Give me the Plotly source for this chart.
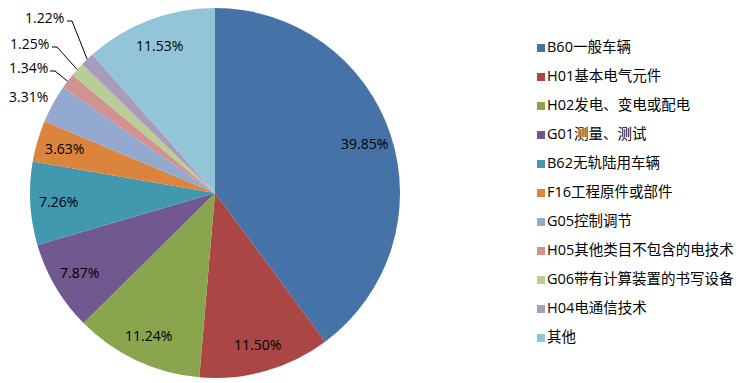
import math
import plotly.graph_objects as go

labels = ["B60一般车辆", "H01基本电气元件", "H02发电、变电或配电", "G01测量、测试",
          "B62无轨陆用车辆", "F16工程原件或部件", "G05控制调节", "H05其他类目不包含的电技术",
          "G06带有计算装置的书写设备", "H04电通信技术", "其他"]
values = [39.85, 11.50, 11.24, 7.87, 7.26, 3.63, 3.31, 1.34, 1.25, 1.22, 11.53]
colors = ["#4572A7", "#AA4643", "#89A54E", "#71588F", "#4198AF", "#DB843D",
          "#93A9CF", "#D19392", "#B9CD96", "#A99BBD", "#92C5D8"]

FONT = "Open Sans, Noto Sans CJK SC, sans-serif"
W, H = 755, 383
OFF = 8                                  # page body margin in the browser
cx, cy, r = 215 - OFF, 193 - OFF, 185    # pie centre / radius in px (from top-left)

# outside-label placement (page px): text centre, and start of leader line (None = no leader)
outside_layout = {
    6: ((28, 97), None),
    7: ((28, 67), (50, 71)),
    8: ((29, 43), (52, 47)),
    9: ((44, 17), (67, 21)),
}


def px2paper(x, y):
    return x / W, 1 - y / H


fig = go.Figure()
fig.add_trace(go.Pie(
    labels=labels, values=values, sort=False, direction="clockwise", rotation=0,
    marker=dict(colors=colors, line=dict(width=0)),
    textinfo="none", showlegend=False, hoverinfo="label+value",
    domain=dict(x=[(cx - r) / W, (cx + r) / W],
                y=[max(0.0, (H - cy - r) / H), min(1.0, (H - cy + r) / H)]),
))

total = sum(values)
cum = 0.0
annotations, shapes = [], []
for i, v in enumerate(values):
    mid = (cum + v / 2) / total * 2 * math.pi
    cum += v
    sx, sy = math.sin(mid), math.cos(mid)
    txt = f"{v / total * 100:.2f}%"
    base = dict(xref="paper", yref="paper", xanchor="center", yanchor="middle",
                text=txt, showarrow=False,
                font=dict(family=FONT, size=14, color="#000000"))
    if i in outside_layout:
        (tx, ty), lead = outside_layout[i]
        ax_, ay_ = px2paper(tx - OFF, ty - OFF)
        annotations.append(dict(base, x=ax_, y=ay_))
        if lead is not None:
            ex, ey = cx + r * sx, cy - r * sy
            lx, ly = lead[0] - OFF, lead[1] - OFF
            p0 = px2paper(lx, ly)
            p1 = px2paper(lx + 5, ly)
            p2 = px2paper(ex, ey)
            shapes.append(dict(type="path", xref="paper", yref="paper",
                               path=f"M {p0[0]},{p0[1]} L {p1[0]},{p1[1]} L {p2[0]},{p2[1]}",
                               line=dict(color="#000000", width=1)))
    else:
        x_, y_ = px2paper(cx + 0.85 * r * sx, cy - 0.85 * r * sy)
        annotations.append(dict(base, x=x_, y=y_))

# legend drawn as a marker+text column on a hidden axis
idx = list(range(len(labels)))
fig.add_trace(go.Scatter(
    x=[0] * len(labels), y=idx, mode="markers+text", text=labels,
    textposition="middle right", cliponaxis=False, showlegend=False, hoverinfo="skip",
    marker=dict(symbol="square", size=8, color=colors),
    textfont=dict(family=FONT, size=14.5, color="#000000"),
))

top_px, bot_px = 48 - OFF, 338 - OFF
step = (bot_px - top_px) / (len(labels) - 1)
fig.update_layout(
    width=W, height=H, margin=dict(l=0, r=0, t=0, b=0),
    paper_bgcolor="white", plot_bgcolor="rgba(0,0,0,0)",
    font=dict(family=FONT, size=14, color="#000000"),
    xaxis=dict(visible=False, range=[0, 1], domain=[(541 - OFF) / W, 1.0], fixedrange=True),
    yaxis=dict(visible=False, range=[len(labels) - 0.5, -0.5], fixedrange=True,
               domain=[(H - (bot_px + step / 2)) / H, (H - (top_px - step / 2)) / H]),
    annotations=annotations, shapes=shapes,
)
fig.write_html("out.html")
